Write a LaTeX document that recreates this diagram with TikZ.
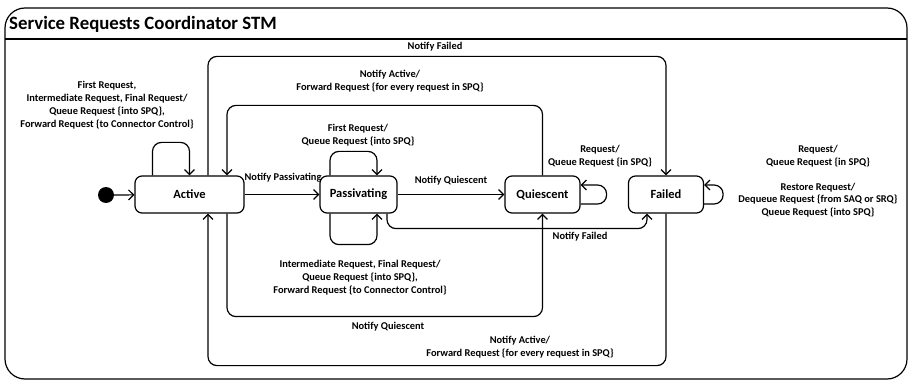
\documentclass[tikz,border=0pt]{standalone}
\usepackage{fontspec}
\setmainfont{Carlito}
\usetikzlibrary{arrows.meta}

\tikzset{
  state/.style={draw, line width=1.2pt, rounded corners=7pt, minimum height=37pt,
    inner sep=0pt, font=\fontsize{12.5}{14}\selectfont\bfseries},
  trans/.style={line width=1.2pt, rounded corners=9pt,
    -{Straight Barb[length=5pt,width=10pt,line width=1.2pt]}},
  lbl/.style={align=center, inner sep=0pt, font=\fontsize{10.4}{12.8}\selectfont\bfseries}
}

\begin{document}
\begin{tikzpicture}[x=1pt, y=-1pt]
    \useasboundingbox (0,0) rectangle (911,382);
    % frame and title bar
    \draw[line width=1.2pt, rounded corners=20pt] (5,8) rectangle (907,379);
    \draw[line width=1.2pt] (5,39) -- (907,39);
    \node[anchor=west, inner sep=0pt, font=\fontsize{18.8}{20}\selectfont\bfseries] (title) at (9,24) {Service Requests Coordinator STM};
    % states
    \fill (106,195) circle (8) coordinate (init);
    \node[state, minimum width=109pt] (act) at (189.5,194.5) {Active};
    \node[state, minimum width=77pt] (pas) at (358.5,194.5) {Passivating};
    \node[state, minimum width=75pt] (qui) at (542.5,194.5) {Quiescent};
    \node[state, minimum width=75pt] (fail) at (666,194.5) {Failed};
    % transitions
    \draw[trans] ([xshift=8pt]init) -- (act);
    \draw[trans] ([xshift=-37pt]act.north) -- ++(0,-33) -| (act.north);
    \draw[trans] (act) -- (pas);
    \draw[trans] (pas) -- (qui);
    \draw[trans] ([xshift=-28.5pt]pas.north) -- ++(0,-24) -| ([xshift=18.5pt]pas.north);
    \draw[trans] ([xshift=-28.5pt]pas.south) -- ++(0,31) -| ([xshift=18.5pt]pas.south);
    \draw[trans] ([xshift=28.5pt]pas.south) -- ++(0,15) -| ([xshift=-19pt]fail.south);
    \draw[trans] ([yshift=-9.5pt]qui.east) -- ++(26,0) |- ([yshift=9.5pt]qui.east);
    \draw[trans] ([yshift=-9.5pt]fail.east) -- ++(19,0) |- ([yshift=9.5pt]fail.east);
    \draw[trans] (qui.north) -- ++(0,-70) -| ([xshift=37.5pt]act.north);
    \draw[trans] ([xshift=18.5pt]act.north) -- ++(0,-119) -| (fail.north);
    \draw[trans] ([xshift=37.5pt]act.south) -- ++(0,103) -| (qui.south);
    \draw[trans] (fail.south) -- ++(0,152) -| ([xshift=18.5pt]act.south);
    % labels
    \node[lbl] (lfailtop) at (435,47) {Notify Failed};
    \node[lbl] (lacttop) at (390,81.5) {Notify Active/\\Forward Request \{for every request in SPQ\}};
    \node[lbl] (lactloop) at (107,105) {First Request,\\Intermediate Request, Final Request/\\Queue Request \{into SPQ\},\\Forward Request \{to Connector Control\}};
    \node[lbl] (lpastop) at (358,135.5) {First Request/\\Queue Request \{into SPQ\}};
    \node[lbl] (lpasv) at (283,178) {Notify Passivating};
    \node[lbl] (lquie) at (451,181) {Notify Quiescent};
    \node[lbl] (lquiloop) at (600,156.5) {Request/\\Queue Request \{in SPQ\}};
    \node[lbl] (lfailreq) at (818,156.5) {Request/\\Queue Request \{in SPQ\}};
    \node[lbl] (lfailrest) at (818,200) {Restore Request/\\Dequeue Request \{from SAQ or SRQ\}\\Queue Request \{into SPQ\}};
    \node[lbl] (lfailbot) at (580,237) {Notify Failed};
    \node[lbl] (lpasbot) at (360,277.5) {Intermediate Request, Final Request/\\Queue Request \{into SPQ\},\\Forward Request \{to Connector Control\}};
    \node[lbl] (lquibot) at (388,327) {Notify Quiescent};
    \node[lbl] (lactbot) at (520,347) {Notify Active/\\Forward Request \{for every request in SPQ\}};
\end{tikzpicture}
\end{document}
